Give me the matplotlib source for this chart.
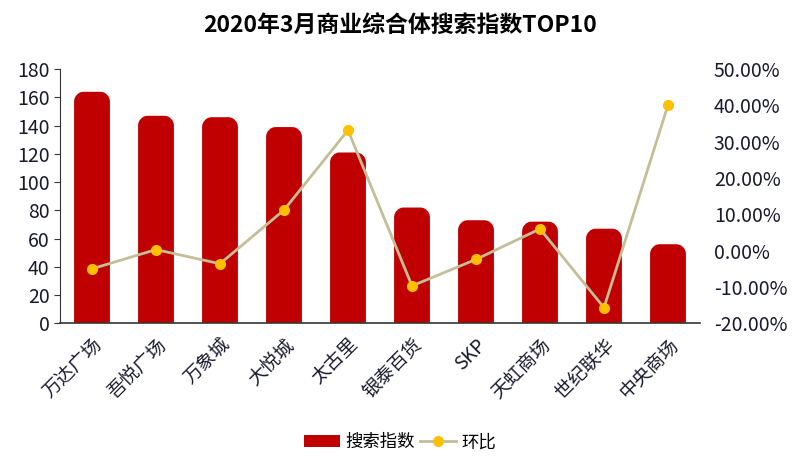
import matplotlib.pyplot as plt
from matplotlib.path import Path
from matplotlib.patches import PathPatch, Patch
from matplotlib.ticker import FuncFormatter, MultipleLocator

plt.rcParams['font.family'] = ['Noto Sans CJK SC', 'DejaVu Sans']

# data
names = ['万达广场', '吾悦广场', '万象城', '大悦城', '太古里', '银泰百货', 'SKP', '天虹商场', '世纪联华', '中央商场']
index_vals = [164, 147, 146, 139, 121, 82, 73, 72, 67, 56]
mom = [-5.0, 0.3, -3.6, 11.2, 33.2, -9.7, -2.4, 6.0, -15.7, 40.1]

bar_color = '#C00000'
line_color = '#C4BD97'
dot_color = '#FFC000'
txt = '#1a1a2e'

fig = plt.figure(figsize=(8, 4.74), dpi=100)
ax = fig.add_axes([0.075, 0.318, 0.80, 0.536])
ax2 = ax.twinx()

x = list(range(len(names)))
bars = ax.bar(x, index_vals, width=0.56, color=bar_color)


def round_top(rect, rx, ry):
    # rebuild a bar with rounded top corners
    x0, y0 = rect.get_x(), rect.get_y()
    w, h = rect.get_width(), rect.get_height()
    k = 0.55
    verts = [(x0, y0), (x0, y0 + h - ry),
             (x0, y0 + h - ry + k * ry), (x0 + rx - k * rx, y0 + h), (x0 + rx, y0 + h),
             (x0 + w - rx, y0 + h),
             (x0 + w - rx + k * rx, y0 + h), (x0 + w, y0 + h - ry + k * ry), (x0 + w, y0 + h - ry),
             (x0 + w, y0), (x0, y0)]
    codes = [Path.MOVETO, Path.LINETO,
             Path.CURVE4, Path.CURVE4, Path.CURVE4,
             Path.LINETO,
             Path.CURVE4, Path.CURVE4, Path.CURVE4,
             Path.LINETO, Path.CLOSEPOLY]
    return PathPatch(Path(verts, codes), facecolor=rect.get_facecolor(), edgecolor='none')


for r in bars:
    r.set_visible(False)
    ax.add_patch(round_top(r, 0.15, 7.0))

ax.set_ylim(0, 180)
ax.set_xlim(-0.5, len(names) - 0.5)
ax.yaxis.set_major_locator(MultipleLocator(20))
ax.set_xticks(x)
ax.set_xticklabels(names, rotation=45, ha='right', rotation_mode='anchor', fontsize=13.5, color=txt)
ax.tick_params(axis='y', labelsize=14, colors=txt, length=4, color='#333333')
ax.tick_params(axis='x', length=0, pad=8)
for s in ['top', 'right']:
    ax.spines[s].set_visible(False)
ax.spines['left'].set_color('#333333')
ax.spines['bottom'].set_color('#333333')
ax.spines['bottom'].set_linewidth(1.2)

ax2.plot(x, mom, color=line_color, lw=2, marker='o', markersize=7,
         markerfacecolor=dot_color, markeredgecolor=dot_color, label='环比', zorder=5)
ax2.set_ylim(-20, 50)
ax2.yaxis.set_major_locator(MultipleLocator(10))
ax2.yaxis.set_major_formatter(FuncFormatter(lambda v, p: '%.2f%%' % v))
ax2.tick_params(axis='y', labelsize=14, colors=txt, length=0, pad=10)
for s in ['top', 'right', 'left', 'bottom']:
    ax2.spines[s].set_visible(False)

fig.text(0.5, 0.947, '2020年3月商业综合体搜索指数TOP10', ha='center', va='center',
         fontsize=16.5, fontweight='bold', color='black')

h2, l2 = ax2.get_legend_handles_labels()
bar_handle = Patch(facecolor=bar_color, edgecolor='none')
fig.legend([bar_handle] + h2, ['搜索指数'] + l2, loc='center', bbox_to_anchor=(0.5, 0.067), ncol=2,
           frameon=False, fontsize=12.5, handlelength=2.1, columnspacing=0.3, handletextpad=0.3)

fig.savefig('out.png', dpi=100)
